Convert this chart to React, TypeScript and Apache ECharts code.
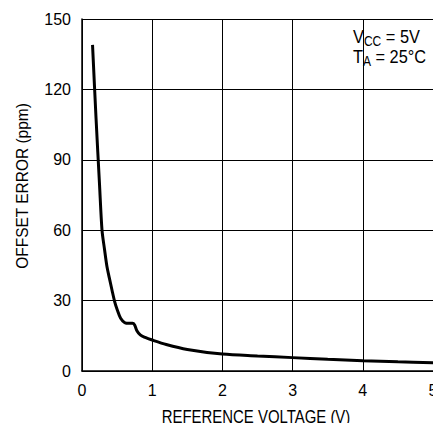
import React, { useEffect, useRef } from "react";
import * as echarts from "echarts";

const voltage = [0.15, 0.2, 0.25, 0.285, 0.32, 0.356, 0.39, 0.427, 0.466, 0.503, 0.55, 0.61, 0.67, 0.72, 0.75, 0.78, 0.83, 0.9, 1.0, 1.2, 1.5, 2.0, 2.5, 3.0, 3.5, 4.0, 4.5, 5.0];
const offsetError = [139, 107.7, 79.2, 60, 52, 44.4, 39.6, 34.5, 29.5, 26, 22.5, 20.6, 20.3, 20.3, 19.6, 17.3, 15.4, 14.3, 13.2, 11.3, 9.2, 7.2, 6.4, 5.7, 5.0, 4.4, 3.9, 3.5];
const xTicks = [0, 1, 2, 3, 4, 5];
const yTicks = [0, 30, 60, 90, 120, 150];
const xName = "REFERENCE VOLTAGE (V)";
const yName = "OFFSET ERROR (ppm)";

export default function App() {
  const ref = useRef<HTMLDivElement>(null);
  useEffect(() => {
    document.body.style.margin = "0";
    const chart = echarts.init(ref.current!, null, { renderer: "svg" });
    const font = "'Liberation Sans', Arial, sans-serif";
    const m = { fontFamily: font, fontSize: 19, fill: "#000" };
    const s = { fontFamily: font, fontSize: 14, fill: "#000", padding: [9, 0, 0, 0] };
    chart.setOption({
      animation: false,
      backgroundColor: "#fff",
      grid: { left: 82, top: 19, right: 0, bottom: 52, containLabel: false, outerBoundsMode: "none" },
      xAxis: {
        type: "value",
        min: xTicks[0],
        max: xTicks[xTicks.length - 1],
        interval: 1,
        axisLine: { show: true, lineStyle: { color: "#000", width: 1.5 } },
        axisTick: { show: false },
        axisLabel: { fontFamily: font, fontSize: 16, color: "#000", margin: 11 },
        splitLine: { show: true, lineStyle: { color: "#000", width: 1 } },
      },
      yAxis: {
        type: "value",
        min: yTicks[0],
        max: yTicks[yTicks.length - 1],
        interval: 30,
        axisLine: { show: true, lineStyle: { color: "#000", width: 1.5 } },
        axisTick: { show: false },
        axisLabel: { fontFamily: font, fontSize: 16, color: "#000", margin: 11 },
        splitLine: { show: true, lineStyle: { color: "#000", width: 1 } },
      },
      graphic: [
        {
          type: "text",
          x: 256,
          y: 408,
          scaleX: 0.83,
          style: { text: xName, fontFamily: font, fontSize: 18, fill: "#000", textAlign: "center", textVerticalAlign: "top" },
        },
        {
          type: "text",
          x: 22,
          y: 186,
          rotation: Math.PI / 2,
          scaleX: 0.91,
          style: { text: yName, fontFamily: font, fontSize: 17, fill: "#000", textAlign: "center", textVerticalAlign: "middle" },
        },
        {
          type: "text",
          x: 353,
          y: 25,
          scaleX: 0.86,
          style: { text: "{m|V}{s|CC}{m| = 5V}", rich: { m, s }, textVerticalAlign: "top" },
        },
        {
          type: "text",
          x: 353,
          y: 45,
          scaleX: 0.86,
          style: { text: "{m|T}{s|A}{m| = 25°C}", rich: { m, s }, textVerticalAlign: "top" },
        },
      ],
      series: [
        {
          type: "line",
          data: voltage.map((v, i) => [v, offsetError[i]]),
          showSymbol: false,
          smooth: 0.3,
          lineStyle: { color: "#000", width: 3 },
        },
      ],
    });
    return () => chart.dispose();
  }, []);
  return <div ref={ref} style={{ width: 433, height: 423 }} />;
}
